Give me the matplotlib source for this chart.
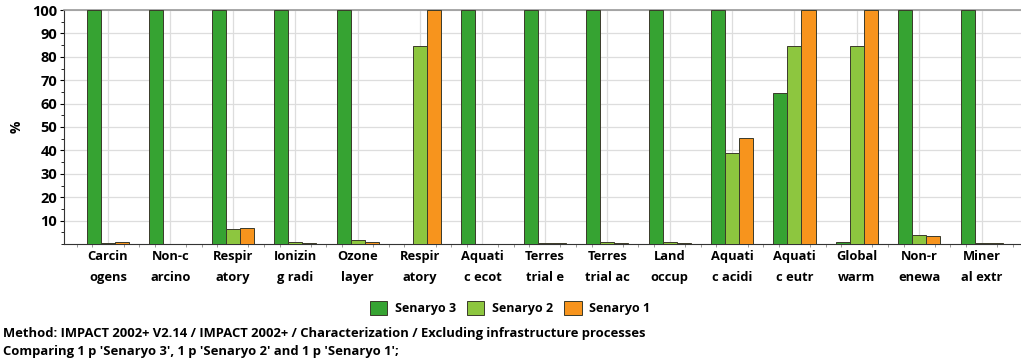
import matplotlib
matplotlib.use("Agg")
import matplotlib.pyplot as plt
from matplotlib.ticker import MultipleLocator
import numpy as np

categories = ["Carcin\nogens", "Non-c\narcino", "Respir\natory", "Ionizin\ng radi", "Ozone\nlayer",
              "Respir\natory", "Aquati\nc ecot", "Terres\ntrial e", "Terres\ntrial ac", "Land\noccup",
              "Aquati\nc acidi", "Aquati\nc eutr", "Global\nwarm", "Non-r\nenewa", "Miner\nal extr"]
senaryo3 = [100, 100, 100, 100, 100, 0, 100, 100, 100, 100, 100, 64.5, 1.0, 100, 100]
senaryo2 = [0.6, 0.1, 6.5, 0.8, 1.8, 84.5, 0.2, 0.5, 0.8, 0.8, 39, 84.5, 84.5, 4.0, 0.4]
senaryo1 = [0.8, 0.2, 6.8, 0.3, 0.7, 100, 0.2, 0.5, 0.6, 0.3, 45.5, 100, 100, 3.3, 0.4]
series_names = ["Senaryo 3", "Senaryo 2", "Senaryo 1"]
colors = ["#36a332", "#8dc63f", "#f7941d"]

plt.rcParams['font.family'] = ['Open Sans', 'DejaVu Sans']
fig = plt.figure(figsize=(10.21, 3.63), dpi=100)
ax = fig.add_axes([64/1021, 1-244/363, 1-64/1021, (244-10)/363])

x = np.arange(len(categories))
w = 0.225
for i, (vals, c, n) in enumerate(zip([senaryo3, senaryo2, senaryo1], colors, series_names)):
    ax.bar(x + (i-1)*w, vals, width=w, color=c, edgecolor="#3a3a2a", linewidth=0.7, label=n, zorder=3)

ax.set_xlim(-0.705, 14.63)
ax.set_ylim(0, 100)
ax.set_yticks(np.arange(10, 101, 10))
ax.yaxis.set_minor_locator(MultipleLocator(5))
ax.set_xticks(x)
ax.set_xticklabels(categories, fontsize=9.3, fontweight='bold', linespacing=1.8)
ax.xaxis.set_minor_locator(MultipleLocator(0.25))
ax.tick_params(axis='x', which='major', length=0, pad=4)
ax.tick_params(axis='x', which='minor', length=2, color='#888888')
ax.tick_params(axis='y', which='major', length=3, labelsize=10.5, pad=2)
ax.tick_params(axis='y', which='minor', length=2)
for lab in ax.get_yticklabels():
    lab.set_fontweight('bold')
ax.grid(True, axis='both', which='major', color='#dddddd', linewidth=0.9, zorder=0)
ax.set_axisbelow(True)
ax.spines['right'].set_visible(False)
ax.spines['top'].set_color('#999999')
ax.spines['top'].set_linewidth(1.2)
ax.spines['left'].set_color('#333333')
ax.spines['bottom'].set_color('#333333')
ax.set_ylabel('%', fontsize=10, fontweight='bold')
ax.yaxis.set_label_coords(-40/957, 0.5)

fig.legend(loc='center', bbox_to_anchor=(510/1021, 1-308/363), ncol=3, frameon=False,
           prop={'size': 9, 'weight': 'bold'}, handlelength=1.4, handleheight=1.4,
           handletextpad=0.6, columnspacing=0.9)

fig.text(3/1021, 1-333/363, "Method: IMPACT 2002+ V2.14 / IMPACT 2002+ / Characterization / Excluding infrastructure processes",
         fontsize=9.4, fontweight='bold', va='center', ha='left')
fig.text(3/1021, 1-352/363, "Comparing 1 p 'Senaryo 3', 1 p 'Senaryo 2' and 1 p 'Senaryo 1';",
         fontsize=9.4, fontweight='bold', va='center', ha='left')

fig.savefig("out.png", dpi=100)
